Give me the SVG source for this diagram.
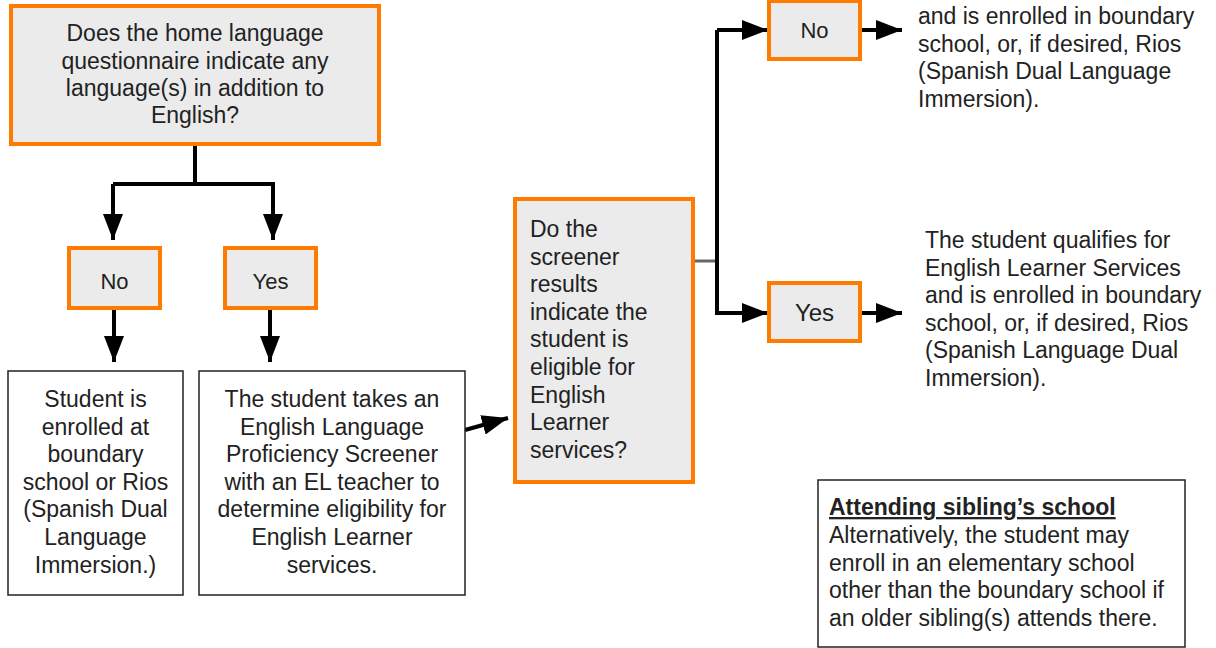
<svg xmlns="http://www.w3.org/2000/svg" width="1216" height="648" viewBox="0 0 1216 648">
<defs>
<marker id="ah" markerUnits="userSpaceOnUse" markerWidth="28" markerHeight="22" refX="26" refY="10" orient="auto">
<path d="M0,0 L26,10 L0,20 z" fill="#000"/>
</marker>
<style>
.q{fill:#ebebeb;stroke:#ff7a00;stroke-width:4}
.b{fill:#fff;stroke:#222;stroke-width:1.5}
text{font-family:"Liberation Sans",Arial,sans-serif;font-size:23px;fill:#222}
.c{text-anchor:middle}
.ln{fill:none;stroke:#000;stroke-width:4}
.ar{fill:none;stroke:#000;stroke-width:4;marker-end:url(#ah)}
</style>
</defs>
<rect width="1216" height="648" fill="#fff"/>
<g id="connectors">
<path class="ln" d="M195,144 V184 H113"/>
<path class="ar" d="M113,184 V240"/>
<path class="ar" d="M195,184 H273 V240"/>
<path class="ar" d="M114,308 V362"/>
<path class="ar" d="M270,308 V362"/>
<path class="ar" d="M465,430 L508,418"/>
<path d="M693,261 H717" stroke="#666" stroke-width="3" fill="none"/>
<path class="ln" d="M717,261 V30"/>
<path class="ar" d="M717,30 H768"/>
<path class="ar" d="M717,261 V313 H768"/>
<path class="ar" d="M860,30 H902"/>
<path class="ar" d="M860,313 H902"/>
</g>
<g id="q1">
<rect class="q" x="11" y="6" width="368" height="138"/>
<text class="c" x="195" y="41">Does the home language</text>
<text class="c" x="195" y="68.5">questionnaire indicate any</text>
<text class="c" x="195" y="96">language(s) in addition to</text>
<text class="c" x="195" y="123">English?</text>
</g>
<g id="no1">
<rect class="q" x="69" y="248" width="91" height="60"/>
<text class="c" x="114.5" y="289" style="font-size:22px">No</text>
</g>
<g id="yes1">
<rect class="q" x="225" y="248" width="91" height="60"/>
<text class="c" x="270.5" y="289" style="font-size:22px">Yes</text>
</g>
<g id="enrolled">
<rect class="b" x="8" y="371" width="175" height="224"/>
<text class="c" x="95.5" y="407">Student is</text>
<text class="c" x="95.5" y="434.6">enrolled at</text>
<text class="c" x="95.5" y="462.2">boundary</text>
<text class="c" x="95.5" y="489.8">school or Rios</text>
<text class="c" x="95.5" y="517.4">(Spanish Dual</text>
<text class="c" x="95.5" y="545">Language</text>
<text class="c" x="95.5" y="572.6">Immersion.)</text>
</g>
<g id="screener">
<rect class="b" x="199" y="371" width="266" height="224"/>
<text class="c" x="332" y="407">The student takes an</text>
<text class="c" x="332" y="434.6">English Language</text>
<text class="c" x="332" y="462.2">Proficiency Screener</text>
<text class="c" x="332" y="489.8">with an EL teacher to</text>
<text class="c" x="332" y="517.4">determine eligibility for</text>
<text class="c" x="332" y="545">English Learner</text>
<text class="c" x="332" y="572.6">services.</text>
</g>
<g id="q2">
<rect class="q" x="515" y="199" width="178" height="283"/>
<text x="530" y="237">Do the</text>
<text x="530" y="264.6">screener</text>
<text x="530" y="292.2">results</text>
<text x="530" y="319.8">indicate the</text>
<text x="530" y="347.4">student is</text>
<text x="530" y="375">eligible for</text>
<text x="530" y="402.6">English</text>
<text x="530" y="430.2">Learner</text>
<text x="530" y="457.8">services?</text>
</g>
<g id="no2">
<rect class="q" x="769" y="1" width="91" height="58"/>
<text class="c" x="814.5" y="38" style="font-size:22px">No</text>
</g>
<g id="yes2">
<rect class="q" x="769" y="283" width="91" height="58"/>
<text class="c" x="814.5" y="321" style="font-size:24px">Yes</text>
</g>
<g id="outNo">
<text x="918" y="24">and is enrolled in boundary</text>
<text x="918" y="51.5">school, or, if desired, Rios</text>
<text x="918" y="79">(Spanish Dual Language</text>
<text x="918" y="106.5">Immersion).</text>
</g>
<g id="outYes">
<text x="925" y="248">The student qualifies for</text>
<text x="925" y="275.6">English Learner Services</text>
<text x="925" y="303.2">and is enrolled in boundary</text>
<text x="925" y="330.8">school, or, if desired, Rios</text>
<text x="925" y="358.4">(Spanish Language Dual</text>
<text x="925" y="386">Immersion).</text>
</g>
<g id="sibling">
<rect class="b" x="818" y="480" width="367" height="167"/>
<text x="829" y="515" style="font-weight:bold;text-decoration:underline">Attending sibling’s school</text>
<text x="829" y="543">Alternatively, the student may</text>
<text x="829" y="570.5">enroll in an elementary school</text>
<text x="829" y="598">other than the boundary school if</text>
<text x="829" y="625.5">an older sibling(s) attends there.</text>
</g>
</svg>
